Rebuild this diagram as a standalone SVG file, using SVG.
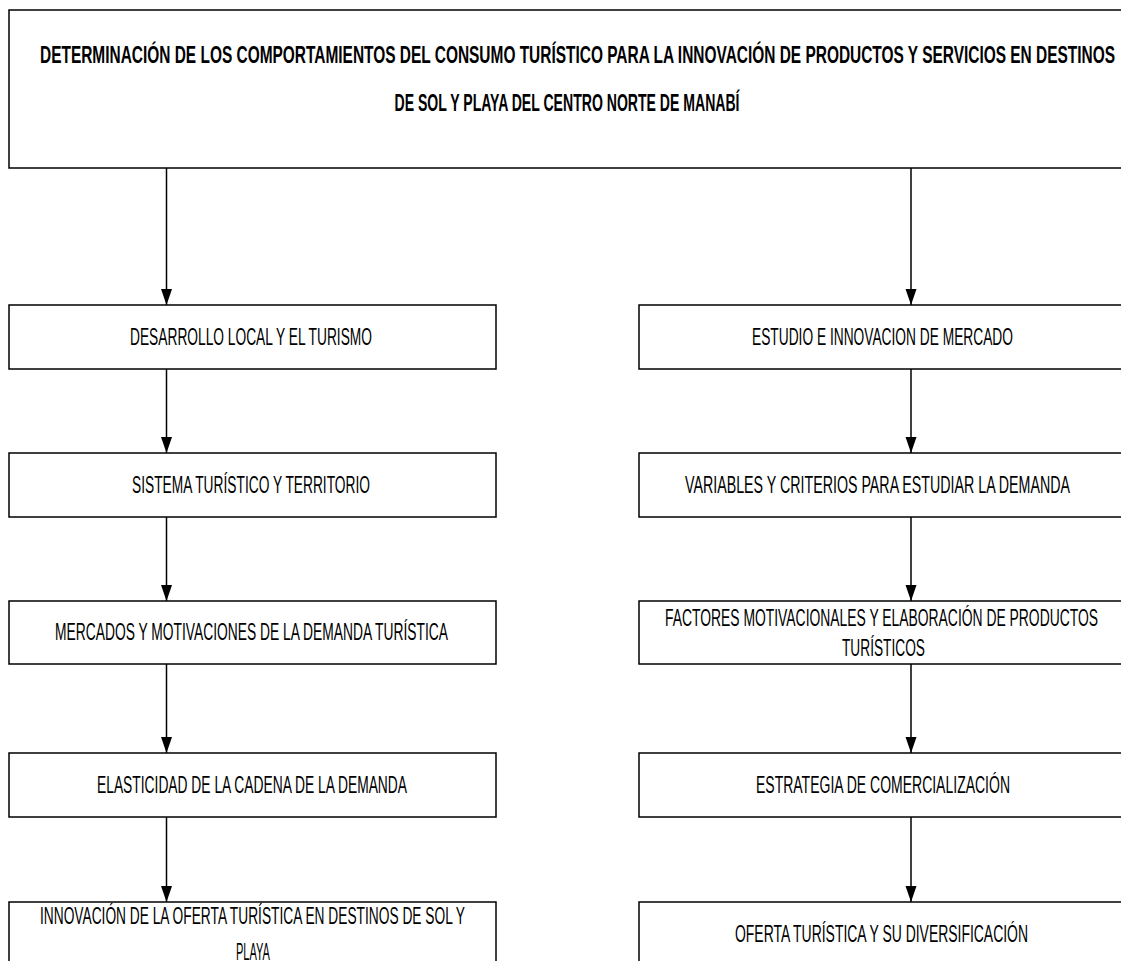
<svg xmlns="http://www.w3.org/2000/svg" width="1121" height="961" viewBox="0 0 1121 961">
<style>
.box{fill:#fff;stroke:#000;stroke-width:1.5}
.t{font-family:"Liberation Sans Narrow","Liberation Sans",Arial,sans-serif;font-size:23px;fill:#000;text-anchor:middle}
.h{font-family:"Liberation Sans Narrow","Liberation Sans",Arial,sans-serif;font-size:24px;font-weight:bold;fill:#000;text-anchor:middle}
.c{stroke:#000;stroke-width:1.5;fill:none;marker-end:url(#ah)}
</style>
<defs>
<marker id="ah" markerUnits="userSpaceOnUse" markerWidth="17" markerHeight="12" refX="16" refY="6" orient="auto" viewBox="0 0 17 12">
<path d="M0,0.5 L16,6 L0,11.5 Z" fill="#000"/>
</marker>
</defs>
<rect width="1121" height="961" fill="#fff"/>
<g id="connectors">
<line class="c" x1="166.5" y1="168" x2="166.5" y2="305"/>
<line class="c" x1="166.5" y1="369" x2="166.5" y2="453"/>
<line class="c" x1="166.5" y1="517" x2="166.5" y2="601"/>
<line class="c" x1="166.5" y1="664" x2="166.5" y2="753"/>
<line class="c" x1="166.5" y1="817" x2="166.5" y2="902"/>
<line class="c" x1="911" y1="168" x2="911" y2="305"/>
<line class="c" x1="911" y1="369" x2="911" y2="453"/>
<line class="c" x1="911" y1="517" x2="911" y2="601"/>
<line class="c" x1="911" y1="664" x2="911" y2="753"/>
<line class="c" x1="911" y1="817" x2="911" y2="902"/>
</g>
<g id="title">
<rect class="box" x="9" y="10" width="1120" height="158"/>
<text class="h" x="577.5" y="63" textLength="1075" lengthAdjust="spacingAndGlyphs">DETERMINACIÓN DE LOS COMPORTAMIENTOS DEL CONSUMO TURÍSTICO PARA LA INNOVACIÓN DE PRODUCTOS Y SERVICIOS EN DESTINOS</text>
<text class="h" x="567" y="111" textLength="345" lengthAdjust="spacingAndGlyphs">DE SOL Y PLAYA DEL CENTRO NORTE DE MANABÍ</text>
</g>
<g id="l1">
<rect class="box" x="9" y="305" width="487" height="64"/>
<text class="t" x="251" y="345" textLength="242" lengthAdjust="spacingAndGlyphs">DESARROLLO LOCAL Y EL TURISMO</text>
</g>
<g id="l2">
<rect class="box" x="9" y="453" width="487" height="64"/>
<text class="t" x="251" y="493" textLength="238" lengthAdjust="spacingAndGlyphs">SISTEMA TURÍSTICO Y TERRITORIO</text>
</g>
<g id="l3">
<rect class="box" x="9" y="601" width="487" height="63"/>
<text class="t" x="251.5" y="640" textLength="393" lengthAdjust="spacingAndGlyphs">MERCADOS Y MOTIVACIONES DE LA DEMANDA TURÍSTICA</text>
</g>
<g id="l4">
<rect class="box" x="9" y="753" width="487" height="64"/>
<text class="t" x="252" y="793" textLength="310" lengthAdjust="spacingAndGlyphs">ELASTICIDAD DE LA CADENA DE LA DEMANDA</text>
</g>
<g id="l5">
<rect class="box" x="9" y="902" width="487" height="70"/>
<text class="t" x="252.5" y="924" textLength="425" lengthAdjust="spacingAndGlyphs">INNOVACIÓN DE LA OFERTA TURÍSTICA EN DESTINOS DE SOL Y</text>
<text class="t" x="253" y="960" textLength="34" lengthAdjust="spacingAndGlyphs">PLAYA</text>
</g>
<g id="r1">
<rect class="box" x="639" y="305" width="490" height="64"/>
<text class="t" x="882.5" y="345" textLength="261" lengthAdjust="spacingAndGlyphs">ESTUDIO E INNOVACION DE MERCADO</text>
</g>
<g id="r2">
<rect class="box" x="639" y="453" width="490" height="64"/>
<text class="t" x="877.5" y="493" textLength="385" lengthAdjust="spacingAndGlyphs">VARIABLES Y CRITERIOS PARA ESTUDIAR LA DEMANDA</text>
</g>
<g id="r3">
<rect class="box" x="639" y="601" width="490" height="63"/>
<text class="t" x="881.5" y="626" textLength="433" lengthAdjust="spacingAndGlyphs">FACTORES MOTIVACIONALES Y ELABORACIÓN DE PRODUCTOS</text>
<text class="t" x="883.5" y="656" textLength="83" lengthAdjust="spacingAndGlyphs">TURÍSTICOS</text>
</g>
<g id="r4">
<rect class="box" x="639" y="753" width="490" height="64"/>
<text class="t" x="883" y="793" textLength="254" lengthAdjust="spacingAndGlyphs">ESTRATEGIA DE COMERCIALIZACIÓN</text>
</g>
<g id="r5">
<rect class="box" x="639" y="902" width="490" height="70"/>
<text class="t" x="881.5" y="942" textLength="293" lengthAdjust="spacingAndGlyphs">OFERTA TURÍSTICA Y SU DIVERSIFICACIÓN</text>
</g>
</svg>
